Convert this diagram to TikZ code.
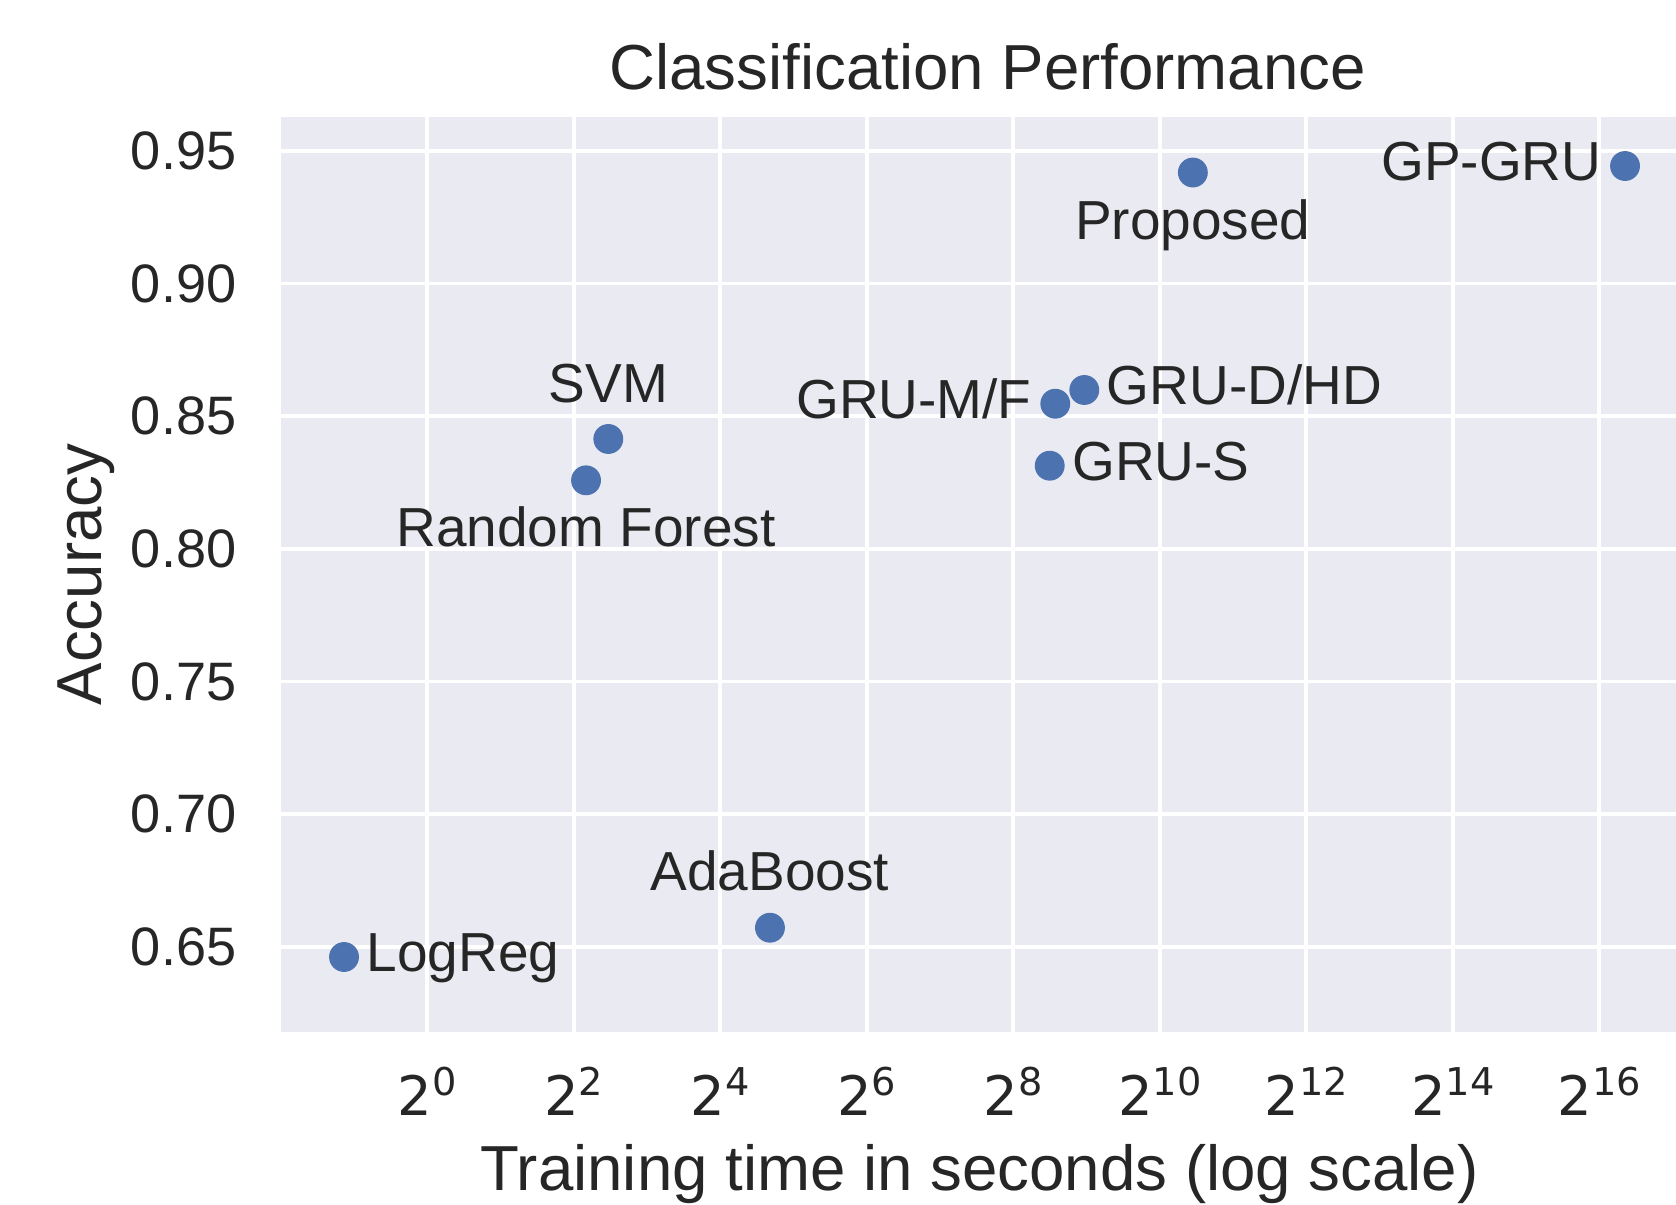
\documentclass[tikz,border=0pt]{standalone}
\usepackage{fontspec}
\setmainfont{Liberation Sans}
\newfontfamily\tickfont{DejaVu Sans}
\usetikzlibrary{positioning}

\definecolor{panel}{HTML}{EAEAF2}
\definecolor{deepblue}{HTML}{4C72B0}
\definecolor{ink}{HTML}{262626}

\newcommand{\powtwo}[1]{2\raisebox{5.6pt}{\fontsize{10.9pt}{12pt}\selectfont #1}}

\tikzset{
  gridline/.style={white, line width=1.05pt},
  score/.style={circle, fill=deepblue, minimum size=8.5pt, inner sep=0pt, outer sep=0pt},
  lbl/.style={text=ink, inner sep=0pt, font=\fontsize{15.65pt}{18pt}\selectfont,
    text height=11.2pt, text depth=0pt},
  ticklabel/.style={text=ink, inner sep=0pt, font=\fontsize{15.4pt}{18pt}\selectfont},
  powlabel/.style={text=ink, inner sep=0pt, font=\tickfont\fontsize{15.5pt}{18pt}\selectfont},
  heading/.style={text=ink, inner sep=0pt, font=\fontsize{18.1pt}{21pt}\selectfont}
}

\begin{document}
\begin{tikzpicture}[x=0.7325cm, y=26.534cm]
    \useasboundingbox (-5.8335, 0.55303) rectangle (17.047, 1.0068);

    % axes panel and grid
    \fill[panel] (-1.997, 0.6179) rectangle (17.047, 0.9627);
    \foreach \k in {0,2,...,16}
        \draw[gridline] (\k, 0.6179) to (\k, 0.9627);
    \foreach \v in {0.65,0.70,0.75,0.80,0.85,0.90,0.95}
        \draw[gridline] (-1.997, \v) to (17.047, \v);

    % tick labels
    \foreach \v [count=\i] in {0.65,0.70,0.75,0.80,0.85,0.90,0.95}
        \node[ticklabel, anchor=east] (ytick\i) at (-2.598, \v) {\v};
    \foreach \k in {0,2,...,16}
        \node[powlabel, anchor=base] (xtick\k) at (\k, 0.58658) {\powtwo{\k}};

    \node[heading, anchor=base] (title) at (7.65, 0.97288) {Classification Performance};
    \node[heading, anchor=base] (xlabel) at (7.539, 0.55831) {Training time in seconds (log scale)};
    \node[heading, anchor=base, rotate=90] (ylabel) at (-4.441, 0.79028) {Accuracy};

    % models
    \node[score] (logreg) at (-1.137, 0.64613) {};
    \node[score] (ada)    at (4.678, 0.65717) {};
    \node[score] (rf)     at (2.167, 0.82578) {};
    \node[score] (svm)    at (2.471, 0.84135) {};
    \node[score] (grum)   at (8.573, 0.85465) {};
    \node[score] (grud)   at (8.969, 0.85982) {};
    \node[score] (grus)   at (8.497, 0.83128) {};
    \node[score] (prop)   at (10.451, 0.94178) {};
    \node[score] (gpgru)  at (16.351, 0.94423) {};

    \node[lbl, right=2pt of logreg, yshift=1.5pt] (logreg-l) {LogReg};
    \node[lbl, above=6.1pt of ada] (ada-l) {AdaBoost};
    \node[lbl, below=3.3pt of rf] (rf-l) {Random Forest};
    \node[lbl, above=6pt of svm] (svm-l) {SVM};
    \node[lbl, left=2.3pt of grum, yshift=1.5pt] (grum-l) {GRU-M/F};
    \node[lbl, right=2pt of grud, yshift=1.6pt] (grud-l) {GRU-D/HD};
    \node[lbl, right=2pt of grus, yshift=1.5pt] (grus-l) {GRU-S};
    \node[lbl, below=3.3pt of prop] (prop-l) {Proposed};
    \node[lbl, left=2.3pt of gpgru, yshift=1.4pt] (gpgru-l) {GP-GRU};
\end{tikzpicture}
\end{document}
